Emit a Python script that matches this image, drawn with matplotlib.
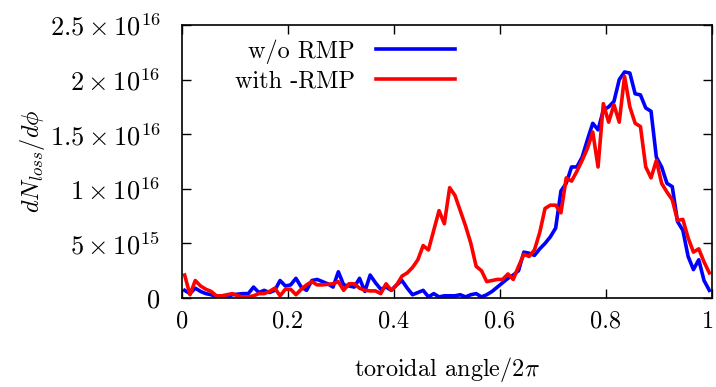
import numpy as np
import matplotlib
matplotlib.use("Agg")
import matplotlib.pyplot as plt
from matplotlib.transforms import ScaledTranslation

# toroidal angle / 2pi, bin centres
angle = np.arange(100) * 0.01 + 0.005

# dN_loss/dphi in units of 1e16
wo_rmp = [
    0.07, 0.04, 0.09, 0.06, 0.04, 0.03, 0.01, 0.00, 0.01, 0.03,
    0.035, 0.04, 0.04, 0.10, 0.05, 0.07, 0.05, 0.07, 0.16, 0.11,
    0.12, 0.18, 0.10, 0.07, 0.16, 0.17, 0.15, 0.13, 0.10, 0.24,
    0.12, 0.11, 0.10, 0.18, 0.06, 0.21, 0.14, 0.08, 0.10, 0.07,
    0.12, 0.16, 0.09, 0.03, 0.05, 0.07, 0.01, 0.04, 0.01, 0.02,
    0.02, 0.02, 0.03, 0.01, 0.03, 0.04, 0.01, 0.03, 0.06, 0.10,
    0.14, 0.18, 0.21, 0.25, 0.42, 0.41, 0.39, 0.45, 0.50, 0.56,
    0.64, 0.98, 1.05, 1.20, 1.20, 1.29, 1.45, 1.60, 1.54, 1.72,
    1.75, 1.80, 2.00, 2.07, 2.06, 1.87, 1.86, 1.74, 1.71, 1.29,
    1.20, 1.05, 1.02, 0.70, 0.62, 0.38, 0.26, 0.35, 0.16, 0.07,
]
with_rmp = [
    0.21, 0.03, 0.16, 0.11, 0.08, 0.06, 0.02, 0.02, 0.03, 0.04,
    0.02, 0.01, 0.01, 0.02, 0.04, 0.04, 0.06, 0.09, 0.02, 0.08,
    0.08, 0.03, 0.08, 0.12, 0.15, 0.12, 0.12, 0.125, 0.13, 0.15,
    0.07, 0.13, 0.13, 0.09, 0.07, 0.065, 0.065, 0.04, 0.13, 0.07,
    0.12, 0.20, 0.23, 0.28, 0.35, 0.48, 0.44, 0.62, 0.80, 0.68,
    1.01, 0.94, 0.80, 0.66, 0.50, 0.29, 0.25, 0.15, 0.16, 0.17,
    0.17, 0.22, 0.17, 0.29, 0.40, 0.38, 0.44, 0.60, 0.82, 0.85,
    0.85, 0.78, 1.10, 1.07, 1.16, 1.26, 1.37, 1.52, 1.20, 1.78,
    1.61, 1.77, 1.61, 2.03, 1.75, 1.60, 1.57, 1.20, 1.10, 1.26,
    1.05, 0.97, 0.90, 0.71, 0.72, 0.55, 0.42, 0.45, 0.33, 0.23,
]
SCALE = 1e16

series_labels = ["w/o RMP", "with -RMP"]
x_ticks = [0, 0.2, 0.4, 0.6, 0.8, 1.0]
x_tick_labels = ["0", "0.2", "0.4", "0.6", "0.8", "1"]
y_ticks = [0, 0.5e16, 1e16, 1.5e16, 2e16, 2.5e16]
y_tick_labels = ["0", r"$5\times10^{15}$", r"$1\times10^{16}$",
                 r"$1.5\times10^{16}$", r"$2\times10^{16}$", r"$2.5\times10^{16}$"]

plt.rcParams["font.family"] = "cmr10"
plt.rcParams["mathtext.fontset"] = "cm"
plt.rcParams["axes.unicode_minus"] = False
FS = 17.5

fig = plt.figure(figsize=(7.16, 3.87), dpi=100)
ax = fig.add_axes([0.2542, 0.23, 0.7402, 0.7054])

ax.plot(angle, np.array(wo_rmp) * SCALE, color="#0000ff", lw=2.6, label=series_labels[0])
ax.plot(angle, np.array(with_rmp) * SCALE, color="#ff0000", lw=2.6, label=series_labels[1])

ax.set_xlim(0, 1)
ax.set_ylim(0, 2.5e16)
ax.set_xticks(x_ticks)
ax.set_xticklabels(x_tick_labels)
ax.set_yticks(y_ticks)
ax.set_yticklabels(y_tick_labels)
ax.tick_params(direction="in", length=6.3, width=1, top=True, right=True)
ax.tick_params(axis="x", pad=9, labelsize=FS)
ax.tick_params(axis="y", pad=15.5, labelsize=19)
for sp in ax.spines.values():
    sp.set_linewidth(1.2)

# nudge the last x label so it stays inside the canvas
last = ax.get_xticklabels()[-1]
last.set_transform(last.get_transform() + ScaledTranslation(-3 / 72, 0, fig.dpi_scale_trans))

ax.set_xlabel(r"toroidal angle/$2\pi$", fontsize=FS, labelpad=16)
ax.set_ylabel(r"$dN_{loss}/d\phi$", fontsize=FS, labelpad=2)

ax.legend(loc="upper right", bbox_to_anchor=(0.515, 0.947), frameon=False,
          markerfirst=False, fontsize=FS, handlelength=3.25,
          handletextpad=0.86, labelspacing=0.27, borderpad=0,
          borderaxespad=0)

fig.savefig("out.png", dpi=100)
